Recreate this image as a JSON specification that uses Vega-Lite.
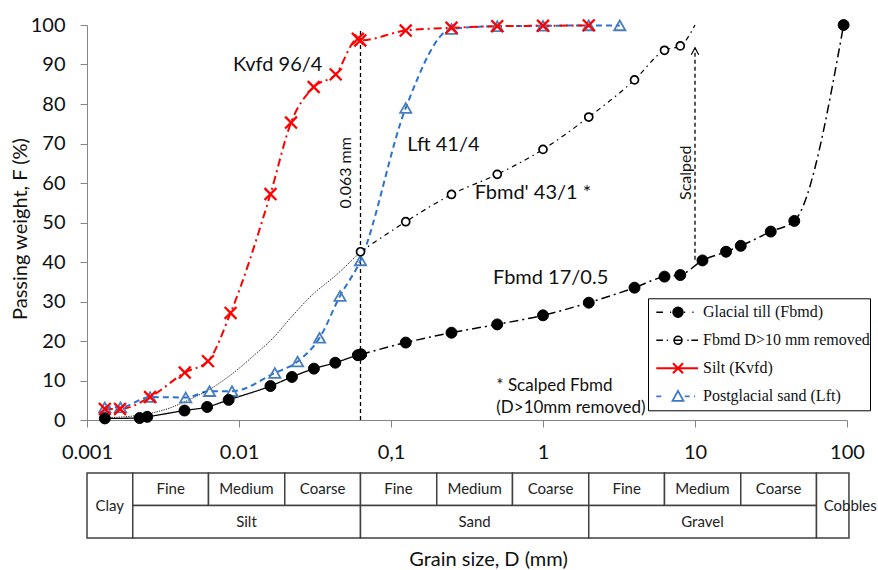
{
  "$schema": "https://vega.github.io/schema/vega-lite/v6.json",
  "background": "white",
  "autosize": {"type": "pad"},
  "padding": {"left": 10, "top": 14, "right": 0, "bottom": 0},
  "config": {
    "view": {"stroke": null},
    "font": "Lato",
    "axis": {"grid": false, "labelFont": "Lato", "titleFont": "Lato", "titleFontWeight": "normal"}
  },
  "spacing": 10,
  "datasets": {
    "curves": [
      {"series": "Postglacial sand (Lft)", "seg": "sand", "D": 0.00131, "F": 3.2},
      {"series": "Postglacial sand (Lft)", "seg": "sand", "D": 0.00166, "F": 3.2},
      {"series": "Postglacial sand (Lft)", "seg": "sand", "D": 0.0026, "F": 5.8},
      {"series": "Postglacial sand (Lft)", "seg": "sand", "D": 0.00446, "F": 5.7},
      {"series": "Postglacial sand (Lft)", "seg": "sand", "D": 0.0064, "F": 7.3},
      {"series": "Postglacial sand (Lft)", "seg": "sand", "D": 0.009, "F": 7.3},
      {"series": "Postglacial sand (Lft)", "seg": "sand", "D": 0.0172, "F": 11.9},
      {"series": "Postglacial sand (Lft)", "seg": "sand", "D": 0.0243, "F": 14.8},
      {"series": "Postglacial sand (Lft)", "seg": "sand", "D": 0.0339, "F": 20.8},
      {"series": "Postglacial sand (Lft)", "seg": "sand", "D": 0.0462, "F": 31.4},
      {"series": "Postglacial sand (Lft)", "seg": "sand", "D": 0.063, "F": 40.4},
      {"series": "Postglacial sand (Lft)", "seg": "sand", "D": 0.125, "F": 79.0},
      {"series": "Postglacial sand (Lft)", "seg": "sand", "D": 0.25, "F": 99.0},
      {"series": "Postglacial sand (Lft)", "seg": "sand", "D": 0.5, "F": 99.7},
      {"series": "Postglacial sand (Lft)", "seg": "sand", "D": 1, "F": 99.8},
      {"series": "Postglacial sand (Lft)", "seg": "sand", "D": 2, "F": 99.9},
      {"series": "Postglacial sand (Lft)", "seg": "sand", "D": 3.2, "F": 99.9},
      {"series": "Silt (Kvfd)", "seg": "silt", "D": 0.00131, "F": 2.8},
      {"series": "Silt (Kvfd)", "seg": "silt", "D": 0.00165, "F": 2.8},
      {"series": "Silt (Kvfd)", "seg": "silt", "D": 0.0026, "F": 5.8},
      {"series": "Silt (Kvfd)", "seg": "silt", "D": 0.0044, "F": 12.0},
      {"series": "Silt (Kvfd)", "seg": "silt", "D": 0.00625, "F": 14.9},
      {"series": "Silt (Kvfd)", "seg": "silt", "D": 0.0088, "F": 27.1},
      {"series": "Silt (Kvfd)", "seg": "silt", "D": 0.0161, "F": 57.2},
      {"series": "Silt (Kvfd)", "seg": "silt", "D": 0.022, "F": 75.3},
      {"series": "Silt (Kvfd)", "seg": "silt", "D": 0.031, "F": 84.3},
      {"series": "Silt (Kvfd)", "seg": "silt", "D": 0.0433, "F": 87.5},
      {"series": "Silt (Kvfd)", "seg": "silt", "D": 0.0605, "F": 96.5},
      {"series": "Silt (Kvfd)", "seg": "silt", "D": 0.0628, "F": 96.1},
      {"series": "Silt (Kvfd)", "seg": "silt", "D": 0.125, "F": 98.6},
      {"series": "Silt (Kvfd)", "seg": "silt", "D": 0.25, "F": 99.3},
      {"series": "Silt (Kvfd)", "seg": "silt", "D": 0.5, "F": 99.7},
      {"series": "Silt (Kvfd)", "seg": "silt", "D": 1, "F": 99.8},
      {"series": "Silt (Kvfd)", "seg": "silt", "D": 2, "F": 99.9},
      {"series": "Fbmd D>10 mm removed", "seg": "scal_fit", "D": 0.0013, "F": 0.6},
      {"series": "Fbmd D>10 mm removed", "seg": "scal_fit", "D": 0.002, "F": 1.0},
      {"series": "Fbmd D>10 mm removed", "seg": "scal_fit", "D": 0.0027, "F": 1.8},
      {"series": "Fbmd D>10 mm removed", "seg": "scal_fit", "D": 0.0036, "F": 3.2},
      {"series": "Fbmd D>10 mm removed", "seg": "scal_fit", "D": 0.0045, "F": 4.8},
      {"series": "Fbmd D>10 mm removed", "seg": "scal_fit", "D": 0.0067, "F": 8.2},
      {"series": "Fbmd D>10 mm removed", "seg": "scal_fit", "D": 0.0091, "F": 11.8},
      {"series": "Fbmd D>10 mm removed", "seg": "scal_fit", "D": 0.0125, "F": 16.3},
      {"series": "Fbmd D>10 mm removed", "seg": "scal_fit", "D": 0.0168, "F": 20.8},
      {"series": "Fbmd D>10 mm removed", "seg": "scal_fit", "D": 0.022, "F": 26.0},
      {"series": "Fbmd D>10 mm removed", "seg": "scal_fit", "D": 0.031, "F": 32.0},
      {"series": "Fbmd D>10 mm removed", "seg": "scal_fit", "D": 0.043, "F": 36.5},
      {"series": "Fbmd D>10 mm removed", "seg": "scal_fit", "D": 0.063, "F": 42.6},
      {"series": "Fbmd D>10 mm removed", "seg": "scal_hi", "D": 0.063, "F": 42.6},
      {"series": "Fbmd D>10 mm removed", "seg": "scal_hi", "D": 0.125, "F": 50.2},
      {"series": "Fbmd D>10 mm removed", "seg": "scal_hi", "D": 0.25, "F": 57.1},
      {"series": "Fbmd D>10 mm removed", "seg": "scal_hi", "D": 0.5, "F": 62.2},
      {"series": "Fbmd D>10 mm removed", "seg": "scal_hi", "D": 1, "F": 68.5},
      {"series": "Fbmd D>10 mm removed", "seg": "scal_hi", "D": 2, "F": 76.7},
      {"series": "Fbmd D>10 mm removed", "seg": "scal_hi", "D": 4, "F": 86.1},
      {"series": "Fbmd D>10 mm removed", "seg": "scal_hi", "D": 6.3, "F": 93.6},
      {"series": "Fbmd D>10 mm removed", "seg": "scal_hi", "D": 8, "F": 94.7},
      {"series": "Fbmd D>10 mm removed", "seg": "scal_hi", "D": 10, "F": 100},
      {"series": "Glacial till (Fbmd)", "seg": "till_lo", "D": 0.00131, "F": 0.4},
      {"series": "Glacial till (Fbmd)", "seg": "till_lo", "D": 0.00222, "F": 0.5},
      {"series": "Glacial till (Fbmd)", "seg": "till_lo", "D": 0.00249, "F": 0.8},
      {"series": "Glacial till (Fbmd)", "seg": "till_lo", "D": 0.00438, "F": 2.4},
      {"series": "Glacial till (Fbmd)", "seg": "till_lo", "D": 0.00617, "F": 3.3},
      {"series": "Glacial till (Fbmd)", "seg": "till_lo", "D": 0.00855, "F": 5.1},
      {"series": "Glacial till (Fbmd)", "seg": "till_lo", "D": 0.0161, "F": 8.6},
      {"series": "Glacial till (Fbmd)", "seg": "till_lo", "D": 0.0223, "F": 10.9},
      {"series": "Glacial till (Fbmd)", "seg": "till_lo", "D": 0.0311, "F": 13.0},
      {"series": "Glacial till (Fbmd)", "seg": "till_lo", "D": 0.043, "F": 14.5},
      {"series": "Glacial till (Fbmd)", "seg": "till_lo", "D": 0.0605, "F": 16.4},
      {"series": "Glacial till (Fbmd)", "seg": "till_lo", "D": 0.0635, "F": 16.6},
      {"series": "Glacial till (Fbmd)", "seg": "till_hi", "D": 0.0635, "F": 16.6},
      {"series": "Glacial till (Fbmd)", "seg": "till_hi", "D": 0.125, "F": 19.6},
      {"series": "Glacial till (Fbmd)", "seg": "till_hi", "D": 0.25, "F": 22.1},
      {"series": "Glacial till (Fbmd)", "seg": "till_hi", "D": 0.5, "F": 24.2},
      {"series": "Glacial till (Fbmd)", "seg": "till_hi", "D": 1, "F": 26.5},
      {"series": "Glacial till (Fbmd)", "seg": "till_hi", "D": 2, "F": 29.7},
      {"series": "Glacial till (Fbmd)", "seg": "till_hi", "D": 4, "F": 33.5},
      {"series": "Glacial till (Fbmd)", "seg": "till_hi", "D": 6.3, "F": 36.3},
      {"series": "Glacial till (Fbmd)", "seg": "till_hi", "D": 8, "F": 36.7},
      {"series": "Glacial till (Fbmd)", "seg": "till_hi", "D": 11.2, "F": 40.4},
      {"series": "Glacial till (Fbmd)", "seg": "till_hi", "D": 16, "F": 42.6},
      {"series": "Glacial till (Fbmd)", "seg": "till_hi", "D": 20, "F": 44.1},
      {"series": "Glacial till (Fbmd)", "seg": "till_hi", "D": 31.5, "F": 47.7},
      {"series": "Glacial till (Fbmd)", "seg": "till_hi", "D": 45, "F": 50.4},
      {"series": "Glacial till (Fbmd)", "seg": "till_hi", "D": 95, "F": 100}
    ],
    "rules": [
      {"name": "sieve", "D": 0.063, "F": 0, "F2": 99},
      {"name": "scalped", "D": 10, "F": 40.6, "F2": 94.25}
    ],
    "notes": [
      {"D": 0.00913, "F": 90, "label": "Kvfd 96/4"},
      {"D": 0.128, "F": 69.7, "label": "Lft 41/4"},
      {"D": 0.355, "F": 57.5, "label": "Fbmd' 43/1 *"},
      {"D": 0.469, "F": 35.9, "label": "Fbmd 17/0.5"}
    ],
    "smallnotes": [
      {"D": 0.493, "F": 8.65, "label": ["* Scalped Fbmd", "(D>10mm removed)"]}
    ],
    "vnotes": [
      {"D": 0.0508, "F": 62.6, "label": "0.063 mm"},
      {"D": 8.77, "F": 62.6, "label": "Scalped"}
    ],
    "grading": [
      {"cls": "Clay", "lo": 0.001, "hi": 0.002, "y1": 0, "y2": 2, "mid": 0.00141, "yc": 1},
      {"cls": "Fine", "lo": 0.002, "hi": 0.0063, "y1": 1, "y2": 2, "mid": 0.00355, "yc": 1.5},
      {"cls": "Medium", "lo": 0.0063, "hi": 0.02, "y1": 1, "y2": 2, "mid": 0.0112, "yc": 1.5},
      {"cls": "Coarse", "lo": 0.02, "hi": 0.063, "y1": 1, "y2": 2, "mid": 0.0355, "yc": 1.5},
      {"cls": "Silt", "lo": 0.002, "hi": 0.063, "y1": 0, "y2": 1, "mid": 0.0112, "yc": 0.5},
      {"cls": "Fine", "lo": 0.063, "hi": 0.2, "y1": 1, "y2": 2, "mid": 0.112, "yc": 1.5},
      {"cls": "Medium", "lo": 0.2, "hi": 0.63, "y1": 1, "y2": 2, "mid": 0.355, "yc": 1.5},
      {"cls": "Coarse", "lo": 0.63, "hi": 2, "y1": 1, "y2": 2, "mid": 1.12, "yc": 1.5},
      {"cls": "Sand", "lo": 0.063, "hi": 2, "y1": 0, "y2": 1, "mid": 0.355, "yc": 0.5},
      {"cls": "Fine", "lo": 2, "hi": 6.3, "y1": 1, "y2": 2, "mid": 3.55, "yc": 1.5},
      {"cls": "Medium", "lo": 6.3, "hi": 20, "y1": 1, "y2": 2, "mid": 11.2, "yc": 1.5},
      {"cls": "Coarse", "lo": 20, "hi": 63, "y1": 1, "y2": 2, "mid": 35.5, "yc": 1.5},
      {"cls": "Gravel", "lo": 2, "hi": 63, "y1": 0, "y2": 1, "mid": 11.2, "yc": 0.5},
      {"cls": "Cobbles", "lo": 63, "hi": 103, "y1": 0, "y2": 2, "mid": 105, "yc": 1}
    ]
  },
  "vconcat": [
    {
      "width": 760,
      "height": 395,
      "resolve": {
        "scale": {"shape": "independent", "stroke": "independent", "fill": "independent", "strokeWidth": "independent", "size": "independent", "color": "independent", "strokeDash": "independent"},
        "legend": {"shape": "independent", "stroke": "independent", "fill": "independent", "strokeWidth": "independent", "size": "independent", "color": "independent", "strokeDash": "independent"}
      },
      "encoding": {
        "x": {
          "field": "D", "type": "quantitative",
          "scale": {"type": "log", "domain": [0.001, 100], "nice": false},
          "axis": {
            "values": [0.001, 0.01, 0.1, 1, 10, 100],
            "labelExpr": "datum.value < 0.005 ? '0.001' : datum.value < 0.05 ? '0.01' : datum.value < 0.5 ? '0,1' : datum.value < 5 ? '1' : datum.value < 50 ? '10' : '100'",
            "title": null,
            "labelFontSize": 20, "labelColor": "#111", "labelPadding": 15,
            "labelFlush": false, "labelOverlap": false,
            "tickSize": 7, "tickColor": "#868686", "domainColor": "#868686", "grid": false
          }
        },
        "y": {
          "field": "F", "type": "quantitative",
          "scale": {"domain": [0, 100], "nice": false},
          "axis": {
            "values": [0, 10, 20, 30, 40, 50, 60, 70, 80, 90, 100],
            "title": "Passing weight, F (%)",
            "titleFontSize": 20, "titleColor": "#111", "titlePadding": 0, "titleY": 203.5,
            "labelFontSize": 20, "labelColor": "#111", "labelPadding": 15,
            "tickSize": 7, "tickColor": "#868686", "domainColor": "#868686", "grid": false
          }
        }
      },
      "layer": [
        {
          "data": {"name": "rules"},
          "mark": {"type": "rule", "color": "#000", "strokeWidth": 1.3, "strokeDash": [4, 3]},
          "encoding": {"y2": {"field": "F2"}}
        },
        {
          "data": {"name": "rules"},
          "transform": [{"filter": "datum.name === 'scalped'"}],
          "mark": {"type": "point", "shape": "M-0.53,1L0,0L0.53,1", "size": 196, "stroke": "#000", "strokeWidth": 1.2, "fill": "transparent", "opacity": 1},
          "encoding": {"y": {"field": "F2", "type": "quantitative"}}
        },
        {
          "data": {"name": "curves"},
          "mark": {"type": "line", "interpolate": "monotone"},
          "encoding": {
            "color": {
              "field": "seg", "type": "nominal", "legend": null,
              "scale": {"domain": ["till_lo", "till_hi", "scal_fit", "scal_hi", "sand", "silt"],
                        "range": ["#000000", "#000000", "#000000", "#000000", "#2a72d4", "#ff0000"]}
            },
            "strokeDash": {
              "field": "seg", "type": "nominal", "legend": null,
              "scale": {"domain": ["till_lo", "till_hi", "scal_fit", "scal_hi", "sand", "silt"],
                        "range": [[1, 0], [9, 4, 2, 4], [1.2, 1.2], [5, 4, 1.5, 4], [6, 4], [8, 4, 2, 4]]}
            },
            "strokeWidth": {
              "field": "seg", "type": "nominal", "legend": null,
              "scale": {"type": "ordinal", "domain": ["till_lo", "till_hi", "scal_fit", "scal_hi", "sand", "silt"],
                        "range": [1.3, 1.5, 0.9, 1.2, 2, 2]}
            }
          }
        },
        {
          "data": {"name": "curves"},
          "transform": [{"filter": "datum.seg !== 'scal_fit' && !(datum.seg === 'scal_hi' && datum.F >= 100)"}],
          "mark": {"type": "point", "opacity": 1},
          "encoding": {
            "shape": {
              "field": "series", "type": "nominal", "legend": null,
              "scale": {"domain": ["Postglacial sand (Lft)", "Silt (Kvfd)", "Fbmd D>10 mm removed", "Glacial till (Fbmd)"],
                        "range": ["triangle-up", "M-1,-1L1,1M-1,1L1,-1", "circle", "circle"]}
            },
            "stroke": {
              "field": "series", "type": "nominal", "legend": null,
              "scale": {"domain": ["Postglacial sand (Lft)", "Silt (Kvfd)", "Fbmd D>10 mm removed", "Glacial till (Fbmd)"],
                        "range": ["#4a7ebb", "#ff0000", "#000000", "#000000"]}
            },
            "fill": {
              "field": "series", "type": "nominal", "legend": null,
              "scale": {"domain": ["Postglacial sand (Lft)", "Silt (Kvfd)", "Fbmd D>10 mm removed", "Glacial till (Fbmd)"],
                        "range": ["transparent", "transparent", "#ffffff", "#000000"]}
            },
            "size": {
              "field": "series", "type": "nominal", "legend": null,
              "scale": {"type": "ordinal", "domain": ["Postglacial sand (Lft)", "Silt (Kvfd)", "Fbmd D>10 mm removed", "Glacial till (Fbmd)"],
                        "range": [125, 140, 64, 120]}
            },
            "strokeWidth": {
              "field": "series", "type": "nominal", "legend": null,
              "scale": {"type": "ordinal", "domain": ["Postglacial sand (Lft)", "Silt (Kvfd)", "Fbmd D>10 mm removed", "Glacial till (Fbmd)"],
                        "range": [1.8, 2.3, 1.7, 1]}
            }
          }
        },
        {
          "data": {"values": []},
          "mark": {"type": "point", "opacity": 1},
          "encoding": {
            "shape": {
              "field": "series", "type": "nominal",
              "scale": {"domain": ["Glacial till (Fbmd)", "Fbmd D>10 mm removed", "Silt (Kvfd)", "Postglacial sand (Lft)"],
                        "range": [
                          "M-1.054,0L-0.538,0M0,0L0.09,0M1.08,0L1.17,0M1.72,0L1.81,0M0.23,0A0.385,0.385 0 1,1 1,0A0.385,0.385 0 1,1 0.23,0Z",
                          "M-1.054,0L-0.538,0M-0.25,0L-0.16,0M1.34,0L1.43,0M1.64,0L2.154,0M0.305,0A0.31,0.31 0 1,1 0.925,0A0.31,0.31 0 1,1 0.305,0ZM0.305,0L0.925,0",
                          "M-1.054,0L2.154,0M0.23,-0.385L1,0.385M0.23,0.385L1,-0.385",
                          "M-1.054,0L-0.67,0M1.13,0L1.515,0M1.85,0L1.93,0M0.615,-0.42L1.035,0.35L0.195,0.35Z"
                        ]},
              "legend": {
                "title": null,
                "orient": "none",
                "legendX": 561,
                "legendY": 273.3,
                "padding": 0,
                "strokeColor": "#000",
                "fillColor": "#fff",
                "rowPadding": 0,
                "clipHeight": 28,
                "symbolSize": 676,
                "symbolOffset": 8,
                "symbolOpacity": 1,
                "labelOffset": 19,
                "labelFont": "Liberation Serif",
                "labelFontSize": 16,
                "labelColor": "#111",
                "labelLimit": 400,
                "labelExpr": "datum.label + '\u00a0\u00a0'"
              }
            },
            "stroke": {
              "field": "series", "type": "nominal",
              "scale": {"domain": ["Glacial till (Fbmd)", "Fbmd D>10 mm removed", "Silt (Kvfd)", "Postglacial sand (Lft)"],
                        "range": ["#000000", "#000000", "#ff0000", "#3b78cc"]}
            },
            "fill": {
              "field": "series", "type": "nominal",
              "scale": {"domain": ["Glacial till (Fbmd)", "Fbmd D>10 mm removed", "Silt (Kvfd)", "Postglacial sand (Lft)"],
                        "range": ["#000000", "#ffffff", "transparent", "transparent"]}
            },
            "strokeWidth": {
              "field": "series", "type": "nominal",
              "scale": {"type": "ordinal", "domain": ["Glacial till (Fbmd)", "Fbmd D>10 mm removed", "Silt (Kvfd)", "Postglacial sand (Lft)"],
                        "range": [1.5, 1.5, 2, 1.8]}
            }
          }
        },
        {
          "data": {"name": "notes"},
          "mark": {"type": "text", "align": "left", "baseline": "middle", "font": "Lato", "fontSize": 20, "color": "#111"},
          "encoding": {"text": {"field": "label"}}
        },
        {
          "data": {"name": "smallnotes"},
          "mark": {"type": "text", "align": "left", "baseline": "middle", "font": "Lato", "fontSize": 17, "lineHeight": 21.7, "color": "#111"},
          "encoding": {"text": {"field": "label"}}
        },
        {
          "data": {"name": "vnotes"},
          "mark": {"type": "text", "align": "center", "baseline": "middle", "angle": 270, "font": "Lato", "fontSize": 16, "color": "#111"},
          "encoding": {"text": {"field": "label"}}
        }
      ]
    },
    {
      "width": 760,
      "height": 65,
      "data": {"name": "grading"},
      "layer": [
        {
          "mark": {"type": "rect", "fill": "#ffffff", "stroke": "#404040", "strokeWidth": 1.5},
          "encoding": {
            "x": {
              "field": "lo", "type": "quantitative",
              "scale": {"type": "log", "domain": [0.001, 100], "nice": false},
              "axis": {"labels": false, "ticks": false, "domain": false, "grid": false,
                       "title": "Grain size, D (mm)", "titleFontSize": 20, "titleColor": "#111", "titlePadding": 11, "titleX": 401}
            },
            "x2": {"field": "hi"},
            "y": {"field": "y1", "type": "quantitative", "scale": {"domain": [0, 2], "nice": false}, "axis": null},
            "y2": {"field": "y2"}
          }
        },
        {
          "mark": {"type": "text", "align": "center", "baseline": "middle", "font": "Lato", "fontSize": 15, "color": "#222"},
          "encoding": {
            "x": {"field": "mid", "type": "quantitative"},
            "y": {"field": "yc", "type": "quantitative"},
            "text": {"field": "cls"}
          }
        }
      ]
    }
  ]
}
